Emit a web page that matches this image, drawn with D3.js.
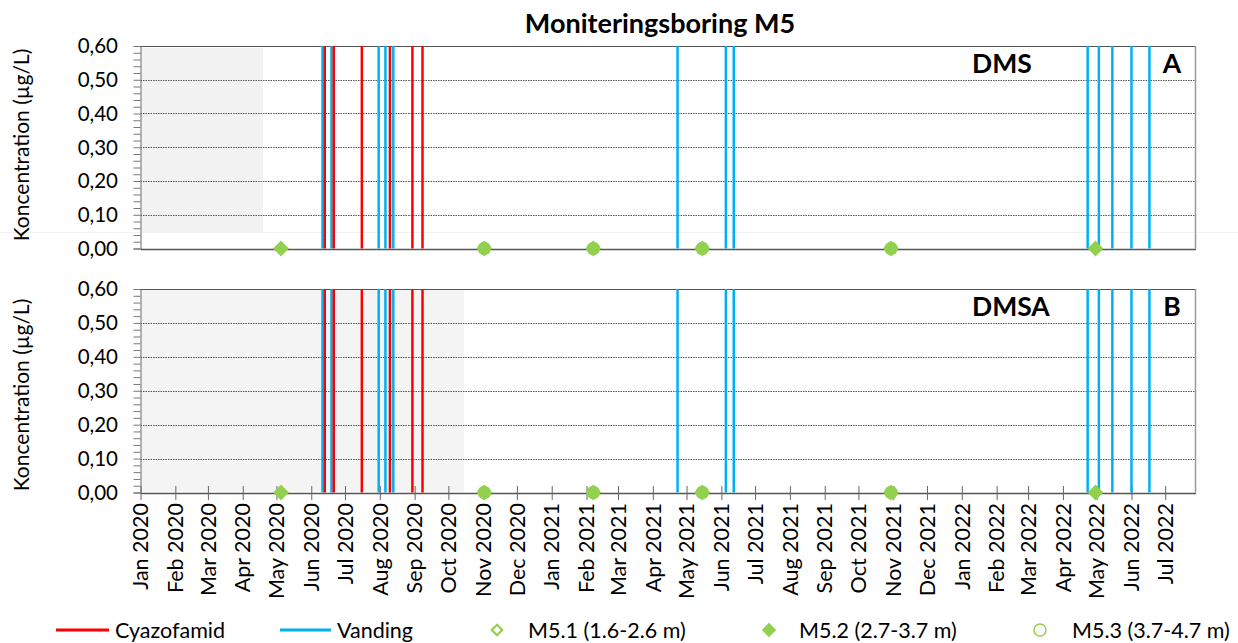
<!DOCTYPE html>
<html lang="da">
<head>
	<meta charset="utf-8">
	<title>Moniteringsboring M5</title>
	<script src="https://cdn.jsdelivr.net/npm/d3@7"></script>
	<style type="text/css">
		body { margin: 0; background: #fff; }
		text { font-family: Lato, "Open Sans", sans-serif; fill: #000; }
		.grid line { stroke: #555; stroke-dasharray: 1.5,1; }
	</style>
</head>
<body>
<script type="text/javascript">

// ---- data ----
var panelNames = ["DMS", "DMSA"];
var panelLetters = ["A", "B"];
// grey shaded period ends here (starts at the axis start)
var shadeEnd = ["2020-04-19", "2020-10-15"];
var cyazofamidDates = ["2020-06-13", "2020-06-21", "2020-07-16", "2020-08-10", "2020-08-30", "2020-09-08"];
var vandingDates = ["2020-06-11", "2020-06-19", "2020-07-31", "2020-08-06", "2020-08-13",
                    "2021-04-23", "2021-06-05", "2021-06-12",
                    "2022-04-23", "2022-05-03", "2022-05-15", "2022-06-01", "2022-06-17"];
// sampling dates, all results 0,00
var m52Dates = ["2020-05-05", "2020-11-02", "2021-02-07", "2021-05-15", "2021-10-30", "2022-04-30"];
var m52Values = [0, 0, 0, 0, 0, 0];
var m53Dates = ["2020-11-02", "2021-02-07", "2021-05-15", "2021-10-30"];
var m53Values = [0, 0, 0, 0];
var yTicks = [0, 0.1, 0.2, 0.3, 0.4, 0.5, 0.6];
var legendLabels = ["Cyazofamid", "Vanding", "M5.1 (1.6-2.6 m)", "M5.2 (2.7-3.7 m)", "M5.3 (3.7-4.7 m)"];

var red = "#ff0000", blue = "#00b0f0", green = "#92d050";
var parse = d3.timeParse("%Y-%m-%d");

var width = 1238, height = 643;
var left = 140.5, right = 1195.5;
var panelTops = [46, 289], panelH = [202.5, 203.5];
var yTitleMid = [145, 395];

var svg = d3.select("body").append("svg")
	.attr("width", width)
	.attr("height", height);

var x = d3.scaleTime()
	.domain([parse("2020-01-01"), parse("2022-07-28")])
	.range([left, right]);

// title
svg.append("text")
	.attr("x", 660).attr("y", 33)
	.attr("text-anchor", "middle")
	.style("font-size", "27px").style("font-weight", "bold")
	.text("Moniteringsboring M5");

// faint line where the upper chart area ends
svg.append("line")
	.attr("x1", 0).attr("x2", width)
	.attr("y1", 232.5).attr("y2", 232.5)
	.attr("stroke", "#f2f2f2");

var diamond = d3.symbol().type(d3.symbolSquare).size(125);

panelNames.forEach(function(name, p) {
	var top = panelTops[p];
	var y = d3.scaleLinear().domain([0, 0.6]).range([top + panelH[p], top]);
	var g = svg.append("g");

	// grey shade
	var shadeTop = p == 0 ? top + 2 : top;
	var shadeBottom = p == 0 ? 232.5 : y(0) - 1;
	g.append("rect")
		.attr("x", left + 1).attr("y", shadeTop)
		.attr("width", x(parse(shadeEnd[p])) - left - 1)
		.attr("height", shadeBottom - shadeTop)
		.attr("fill", p == 0 ? "#f2f2f2" : "#f4f4f4");

	// horizontal grid
	g.append("g").attr("class", "grid")
		.selectAll("line").data(yTicks.slice(1, 6)).enter().append("line")
		.attr("x1", left).attr("x2", right)
		.attr("y1", function(d) { return Math.round(y(d)) + 0.5; })
		.attr("y2", function(d) { return Math.round(y(d)) + 0.5; });

	// frame
	g.append("line").attr("x1", left).attr("x2", right)
		.attr("y1", top + 0.5).attr("y2", top + 0.5).attr("stroke", "#555");
	g.append("line").attr("x1", right).attr("x2", right)
		.attr("y1", top).attr("y2", y(0)).attr("stroke", "#999").attr("stroke-width", 1.5);

	// y axis with minor ticks
	var yAxis = d3.axisLeft(y)
		.tickValues(d3.range(0, 0.6001, 0.02))
		.tickSize(7)
		.tickFormat("");
	var ya = g.append("g").attr("transform", "translate(" + left + ",0)").call(yAxis);
	ya.select(".domain").attr("stroke", "#666");
	ya.selectAll(".tick line").attr("stroke", "#777");

	g.selectAll(".ylab").data(yTicks).enter().append("text")
		.attr("x", 118).attr("y", function(d) { return y(d); })
		.attr("dy", "0.36em")
		.attr("text-anchor", "end")
		.style("font-size", "20.5px")
		.text(function(d) { return d3.format(".2f")(d).replace(".", ","); });

	// y title
	g.append("text")
		.attr("transform", "translate(29," + yTitleMid[p] + ") rotate(-90)")
		.attr("text-anchor", "middle")
		.style("font-size", "21px")
		.text("Koncentration (µg/L)");

	// x axis
	var xAxis = d3.axisBottom(x)
		.ticks(d3.timeMonth.every(1))
		.tickSizeInner(p == 1 ? 7 : 0)
		.tickSizeOuter(0)
		.tickFormat("");
	var xa = g.append("g").attr("transform", "translate(0," + (y(0) + 0.5) + ")").call(xAxis);
	xa.select(".domain").attr("stroke", "#555").attr("stroke-width", 1.5);
	xa.selectAll(".tick line").attr("stroke", "#666").attr("y1", p == 1 ? -7 : 0);

	if (p == 1) {
		var months = x.ticks(d3.timeMonth.every(1));
		g.selectAll(".xlab").data(months).enter().append("text")
			.attr("transform", function(d) { return "translate(" + x(d) + "," + 503 + ") rotate(-90)"; })
			.attr("dy", "0.36em")
			.attr("text-anchor", "end")
			.style("font-size", "21.5px")
			.text(function(d) { return d3.timeFormat("%b %Y")(d); });
	}

	// application / irrigation lines
	g.selectAll(".van").data(vandingDates).enter().append("line")
		.attr("x1", function(d) { return x(parse(d)); })
		.attr("x2", function(d) { return x(parse(d)); })
		.attr("y1", top).attr("y2", y(0))
		.attr("stroke", blue).attr("stroke-width", 2.5);
	g.selectAll(".cya").data(cyazofamidDates).enter().append("line")
		.attr("x1", function(d) { return x(parse(d)); })
		.attr("x2", function(d) { return x(parse(d)); })
		.attr("y1", top).attr("y2", y(0))
		.attr("stroke", red).attr("stroke-width", 2.5);

	// samples
	g.selectAll(".m52").data(m52Dates).enter().append("path")
		.attr("d", diamond)
		.attr("transform", function(d, i) { return "translate(" + x(parse(d)) + "," + y(m52Values[i]) + ") rotate(45)"; })
		.attr("fill", green);
	g.selectAll(".m53").data(m53Dates).enter().append("circle")
		.attr("cx", function(d) { return x(parse(d)); })
		.attr("cy", function(d, i) { return y(m53Values[i]); })
		.attr("r", 6.8)
		.attr("fill", green);

	// panel labels
	g.append("text")
		.attr("x", 972).attr("y", top + 27)
		.style("font-size", "26.5px").style("font-weight", "bold")
		.text(name);
	g.append("text")
		.attr("x", 1172).attr("y", top + 27)
		.attr("text-anchor", "middle")
		.style("font-size", "26.5px").style("font-weight", "bold")
		.text(panelLetters[p]);
});

// legend (sits right at the lower edge, as in the original)
var ly = 630;
var leg = svg.append("g");
leg.append("line").attr("x1", 56).attr("x2", 109).attr("y1", ly).attr("y2", ly)
	.attr("stroke", red).attr("stroke-width", 3);
leg.append("line").attr("x1", 280).attr("x2", 331).attr("y1", ly).attr("y2", ly)
	.attr("stroke", blue).attr("stroke-width", 3);
leg.append("path").attr("d", d3.symbol().type(d3.symbolSquare).size(55))
	.attr("transform", "translate(497," + ly + ") rotate(45)")
	.attr("fill", "none").attr("stroke", green).attr("stroke-width", 2.2);
leg.append("path").attr("d", d3.symbol().type(d3.symbolSquare).size(105))
	.attr("transform", "translate(769," + ly + ") rotate(45)")
	.attr("fill", green);
leg.append("circle").attr("cx", 1040).attr("cy", ly).attr("r", 6)
	.attr("fill", "none").attr("stroke", green).attr("stroke-width", 1.5);

var legX = [115, 337, 528, 799, 1072];
leg.selectAll(".lt").data(legendLabels).enter().append("text")
	.attr("x", function(d, i) { return legX[i]; })
	.attr("y", ly).attr("dy", "0.36em")
	.style("font-size", "21.5px")
	.text(function(d) { return d; });

</script>
</body>
</html>
